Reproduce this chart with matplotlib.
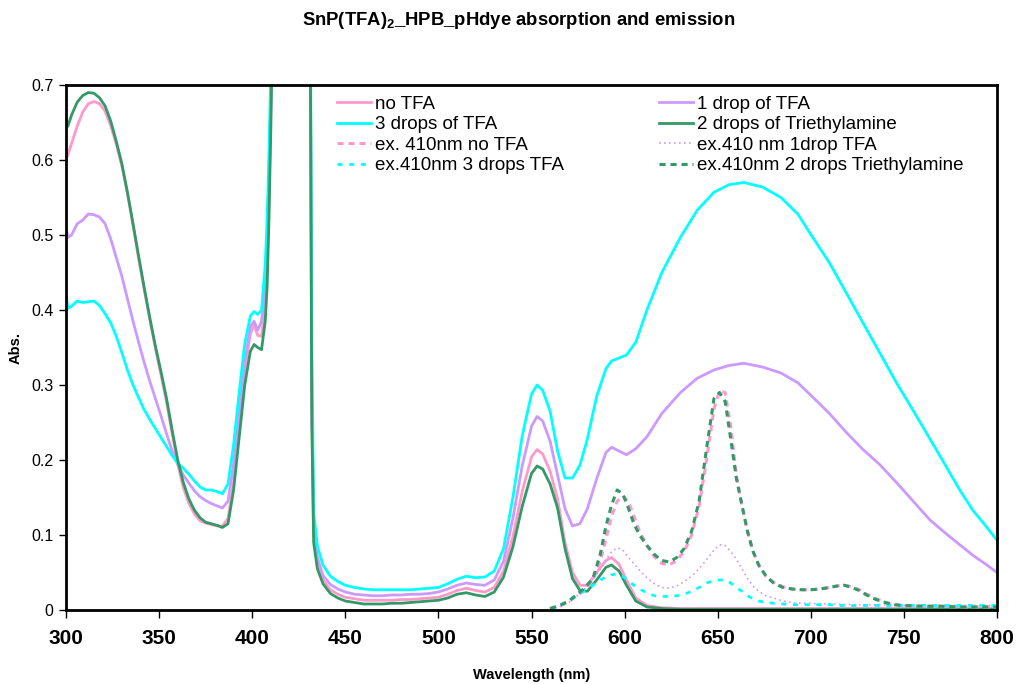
import matplotlib
matplotlib.use("Agg")
import matplotlib.pyplot as plt

plt.rcParams['font.family'] = ['Liberation Sans', 'DejaVu Sans']
plt.rcParams['mathtext.fontset'] = 'custom'
plt.rcParams['mathtext.rm'] = 'Liberation Sans'
plt.rcParams['mathtext.bf'] = 'Liberation Sans:bold'

# ---------------- data ----------------
wl_abs = [300, 301, 303, 306, 309, 312, 315, 318, 321, 324, 327, 330, 333, 336, 339, 342, 345, 348,
          351, 354, 357, 360, 363, 366, 369, 372, 375, 378, 381, 384, 387, 390, 393, 396, 399, 401,
          403, 405, 407, 408, 409, 410, 412, 420, 428, 431, 432, 433, 435, 438, 442, 446, 450, 455,
          460, 465, 470, 475, 480, 485, 490, 495, 500, 505, 510, 515, 520, 525, 530, 535, 540, 545,
          550, 553, 556, 560, 564, 568, 572, 576, 580, 585, 590, 593, 597, 601, 606, 612, 620, 630,
          639, 648, 656, 664, 674, 684, 693, 701, 710, 719, 728, 737, 746, 755, 764, 773, 780, 787,
          794, 800]

abs_no_tfa = [0.600, 0.607, 0.622, 0.645, 0.664, 0.675, 0.678, 0.675, 0.665, 0.646, 0.621, 0.592,
              0.555, 0.513, 0.468, 0.427, 0.387, 0.349, 0.314, 0.277, 0.235, 0.195, 0.163, 0.142,
              0.128, 0.119, 0.116, 0.114, 0.112, 0.112, 0.122, 0.170, 0.245, 0.320, 0.368, 0.380,
              0.366, 0.365, 0.410, 0.460, 0.550, 0.670, 0.97, 1.5, 1.3, 0.9, 0.28, 0.10, 0.062,
              0.040, 0.027, 0.021, 0.017, 0.015, 0.013, 0.013, 0.013, 0.013, 0.014, 0.014, 0.015,
              0.016, 0.017, 0.021, 0.026, 0.029, 0.026, 0.024, 0.030, 0.052, 0.098, 0.158, 0.204,
              0.214, 0.208, 0.185, 0.148, 0.090, 0.050, 0.033, 0.033, 0.050, 0.066, 0.070, 0.061,
              0.040, 0.016, 0.006, 0.003, 0.002, 0.002, 0.002, 0.002, 0.002, 0.002, 0.002, 0.002,
              0.002, 0.002, 0.002, 0.002, 0.002, 0.002, 0.002, 0.002, 0.002, 0.002, 0.002, 0.002,
              0.002]

abs_1drop = [0.510, 0.497, 0.500, 0.515, 0.520, 0.528, 0.527, 0.524, 0.515, 0.495, 0.470, 0.445,
             0.415, 0.385, 0.357, 0.330, 0.305, 0.282, 0.259, 0.235, 0.212, 0.194, 0.180, 0.169,
             0.159, 0.151, 0.146, 0.142, 0.139, 0.136, 0.145, 0.195, 0.262, 0.330, 0.378, 0.385,
             0.373, 0.385, 0.430, 0.480, 0.570, 0.690, 0.98, 1.5, 1.3, 0.9, 0.30, 0.11, 0.070,
             0.046, 0.034, 0.028, 0.024, 0.021, 0.020, 0.019, 0.019, 0.020, 0.020, 0.021, 0.021,
             0.022, 0.024, 0.028, 0.033, 0.036, 0.034, 0.033, 0.040, 0.065, 0.122, 0.192, 0.245,
             0.258, 0.252, 0.225, 0.180, 0.135, 0.112, 0.115, 0.135, 0.175, 0.210, 0.217, 0.212,
             0.207, 0.215, 0.231, 0.262, 0.290, 0.309, 0.320, 0.326, 0.329, 0.324, 0.316, 0.303,
             0.284, 0.262, 0.237, 0.214, 0.194, 0.170, 0.145, 0.120, 0.101, 0.087, 0.073, 0.061,
             0.050]

abs_3drops = [0.422, 0.402, 0.405, 0.412, 0.410, 0.411, 0.412, 0.406, 0.395, 0.383, 0.365, 0.343,
              0.320, 0.300, 0.283, 0.267, 0.254, 0.242, 0.230, 0.218, 0.206, 0.196, 0.189, 0.181,
              0.172, 0.164, 0.160, 0.160, 0.158, 0.155, 0.168, 0.220, 0.290, 0.355, 0.392, 0.398,
              0.394, 0.400, 0.460, 0.520, 0.610, 0.720, 1.0, 1.5, 1.3, 0.95, 0.36, 0.13, 0.085,
              0.060, 0.045, 0.038, 0.033, 0.030, 0.028, 0.027, 0.027, 0.027, 0.027, 0.027, 0.028,
              0.029, 0.030, 0.035, 0.041, 0.045, 0.043, 0.044, 0.052, 0.082, 0.150, 0.232, 0.288,
              0.300, 0.293, 0.265, 0.212, 0.176, 0.176, 0.193, 0.228, 0.285, 0.322, 0.332, 0.336,
              0.340, 0.357, 0.400, 0.450, 0.497, 0.533, 0.557, 0.567, 0.570, 0.564, 0.550, 0.528,
              0.497, 0.463, 0.423, 0.383, 0.343, 0.303, 0.266, 0.228, 0.190, 0.160, 0.133, 0.112,
              0.093]

abs_tea = [0.655, 0.645, 0.660, 0.677, 0.686, 0.690, 0.689, 0.683, 0.672, 0.652, 0.625, 0.595,
           0.557, 0.515, 0.472, 0.430, 0.390, 0.352, 0.318, 0.282, 0.240, 0.200, 0.170, 0.148,
           0.133, 0.123, 0.117, 0.115, 0.113, 0.110, 0.115, 0.160, 0.230, 0.300, 0.345, 0.354,
           0.350, 0.347, 0.385, 0.430, 0.520, 0.640, 0.95, 1.5, 1.3, 0.9, 0.25, 0.09, 0.055,
           0.035, 0.022, 0.016, 0.012, 0.010, 0.008, 0.008, 0.008, 0.009, 0.009, 0.010, 0.011,
           0.012, 0.013, 0.016, 0.021, 0.023, 0.020, 0.018, 0.024, 0.044, 0.084, 0.138, 0.182,
           0.192, 0.188, 0.168, 0.136, 0.082, 0.042, 0.026, 0.025, 0.040, 0.057, 0.060, 0.052,
           0.033, 0.012, 0.004, 0.002, 0.001, 0.001, 0.001, 0.001, 0.001, 0.001, 0.001, 0.001,
           0.001, 0.001, 0.001, 0.001, 0.001, 0.001, 0.001, 0.001, 0.001, 0.001, 0.001, 0.001,
           0.001]

wl_em = [560, 565, 570, 575, 578, 583, 587, 590, 593, 596, 599, 602, 605, 608, 612, 616, 620, 624,
         628, 632, 636, 640, 644, 648, 651, 654, 657, 660, 663, 666, 669, 672, 676, 680, 685, 690,
         695, 700, 705, 710, 714, 718, 722, 726, 730, 735, 740, 745, 750, 760, 770, 780, 790, 800]

em_no_tfa = [0.002, 0.005, 0.011, 0.020, 0.026, 0.040, 0.065, 0.095, 0.125, 0.145, 0.152, 0.145,
             0.125, 0.105, 0.086, 0.071, 0.062, 0.060, 0.066, 0.078, 0.100, 0.138, 0.200, 0.268,
             0.292, 0.290, 0.245, 0.180, 0.140, 0.104, 0.078, 0.060, 0.045, 0.037, 0.031, 0.028,
             0.027, 0.027, 0.028, 0.030, 0.032, 0.033, 0.031, 0.027, 0.021, 0.015, 0.010, 0.007,
             0.006, 0.005, 0.005, 0.004, 0.004, 0.004]

em_1drop = [0.001, 0.004, 0.010, 0.020, 0.027, 0.040, 0.055, 0.067, 0.078, 0.083, 0.080, 0.070,
            0.062, 0.053, 0.043, 0.035, 0.030, 0.029, 0.032, 0.038, 0.045, 0.055, 0.067, 0.080,
            0.087, 0.086, 0.078, 0.068, 0.055, 0.042, 0.032, 0.025, 0.019, 0.016, 0.012, 0.010,
            0.009, 0.009, 0.008, 0.008, 0.008, 0.007, 0.007, 0.007, 0.007, 0.007, 0.007, 0.007,
            0.006, 0.006, 0.006, 0.006, 0.006, 0.006]

em_3drops = [0.001, 0.005, 0.012, 0.020, 0.025, 0.033, 0.040, 0.044, 0.047, 0.048, 0.045, 0.039,
             0.033, 0.028, 0.023, 0.019, 0.018, 0.018, 0.019, 0.021, 0.025, 0.030, 0.036, 0.039,
             0.040, 0.040, 0.036, 0.030, 0.025, 0.019, 0.015, 0.012, 0.010, 0.009, 0.008, 0.007,
             0.007, 0.007, 0.007, 0.007, 0.006, 0.006, 0.006, 0.006, 0.006, 0.006, 0.006, 0.006,
             0.006, 0.006, 0.006, 0.006, 0.006, 0.006]

em_tea = [0.002, 0.006, 0.012, 0.022, 0.028, 0.042, 0.075, 0.112, 0.140, 0.160, 0.155, 0.136,
          0.115, 0.100, 0.086, 0.074, 0.066, 0.064, 0.070, 0.082, 0.105, 0.145, 0.215, 0.282,
          0.290, 0.278, 0.228, 0.176, 0.140, 0.105, 0.078, 0.060, 0.045, 0.036, 0.030, 0.028,
          0.027, 0.027, 0.028, 0.030, 0.032, 0.033, 0.030, 0.026, 0.020, 0.014, 0.010, 0.007,
          0.006, 0.005, 0.005, 0.004, 0.004, 0.004]

labels = ["no TFA", "1 drop of TFA", "3 drops of TFA", "2 drops of Triethylamine",
          "ex. 410nm no TFA", "ex.410 nm 1drop TFA", "ex.410nm 3 drops TFA",
          "ex.410nm 2 drops Triethylamine"]

PINK = "#FF99CC"
LAV = "#CC99FF"
CYAN = "#00FFFF"
GREEN = "#339966"

# ---------------- figure ----------------
fig = plt.figure(figsize=(10.16, 6.84), dpi=100)
ax = fig.add_axes([66/1016, 1-610/684, 931/1016, 525/684])

h = {}
h[0], = ax.plot(wl_abs, abs_no_tfa, color=PINK, lw=2.0, label=labels[0])
h[1], = ax.plot(wl_abs, abs_1drop, color=LAV, lw=2.0, label=labels[1])
h[2], = ax.plot(wl_abs, abs_3drops, color=CYAN, lw=2.0, label=labels[2])
h[3], = ax.plot(wl_abs, abs_tea, color=GREEN, lw=2.0, label=labels[3])
h[4], = ax.plot(wl_em, em_no_tfa, color=PINK, lw=2.2, dashes=(2.0, 1.6), label=labels[4])
h[5], = ax.plot(wl_em, em_1drop, color=LAV, lw=1.2, dashes=(1.0, 2.0), label=labels[5])
h[6], = ax.plot(wl_em, em_3drops, color=CYAN, lw=2.0, dashes=(1.8, 2.4), label=labels[6])
h[7], = ax.plot(wl_em, em_tea, color=GREEN, lw=2.2, dashes=(2.0, 1.6), label=labels[7])

ax.set_xlim(300, 800)
ax.set_ylim(0, 0.7)
ax.set_xticks(range(300, 801, 50))
ax.set_yticks([0, 0.1, 0.2, 0.3, 0.4, 0.5, 0.6, 0.7])
ax.set_yticklabels(["0", "0.1", "0.2", "0.3", "0.4", "0.5", "0.6", "0.7"])
for s in ax.spines.values():
    s.set_linewidth(2.0)
    s.set_color("black")
ax.tick_params(axis='x', direction='out', length=6, width=1, labelsize=15, pad=8)
ax.tick_params(axis='y', direction='out', length=5, width=1, labelsize=11.5, pad=4)
for t in ax.get_xticklabels():
    t.set_fontweight('bold')

ax.set_xlabel("Wavelength (nm)", fontsize=10.5, fontweight='bold', labelpad=14)
ax.set_ylabel("Abs.", fontsize=10.5, fontweight='bold', labelpad=6)
fig.suptitle(r"SnP(TFA)$_\mathbf{2}$_HPB_pHdye absorption and emission",
             fontsize=13.3, fontweight='bold', x=0.51, y=0.985)

order = [0, 2, 4, 6, 1, 3, 5, 7]
leg = ax.legend([h[i] for i in order], [labels[i] for i in order], ncol=2,
                loc='upper left', bbox_to_anchor=(0.291, 0.98), frameon=False,
                fontsize=13.5, handlelength=1.8, handletextpad=0.22,
                labelspacing=0.18, columnspacing=5.1, borderpad=0.0, borderaxespad=0.0)

fig.savefig("out.png", dpi=100)
